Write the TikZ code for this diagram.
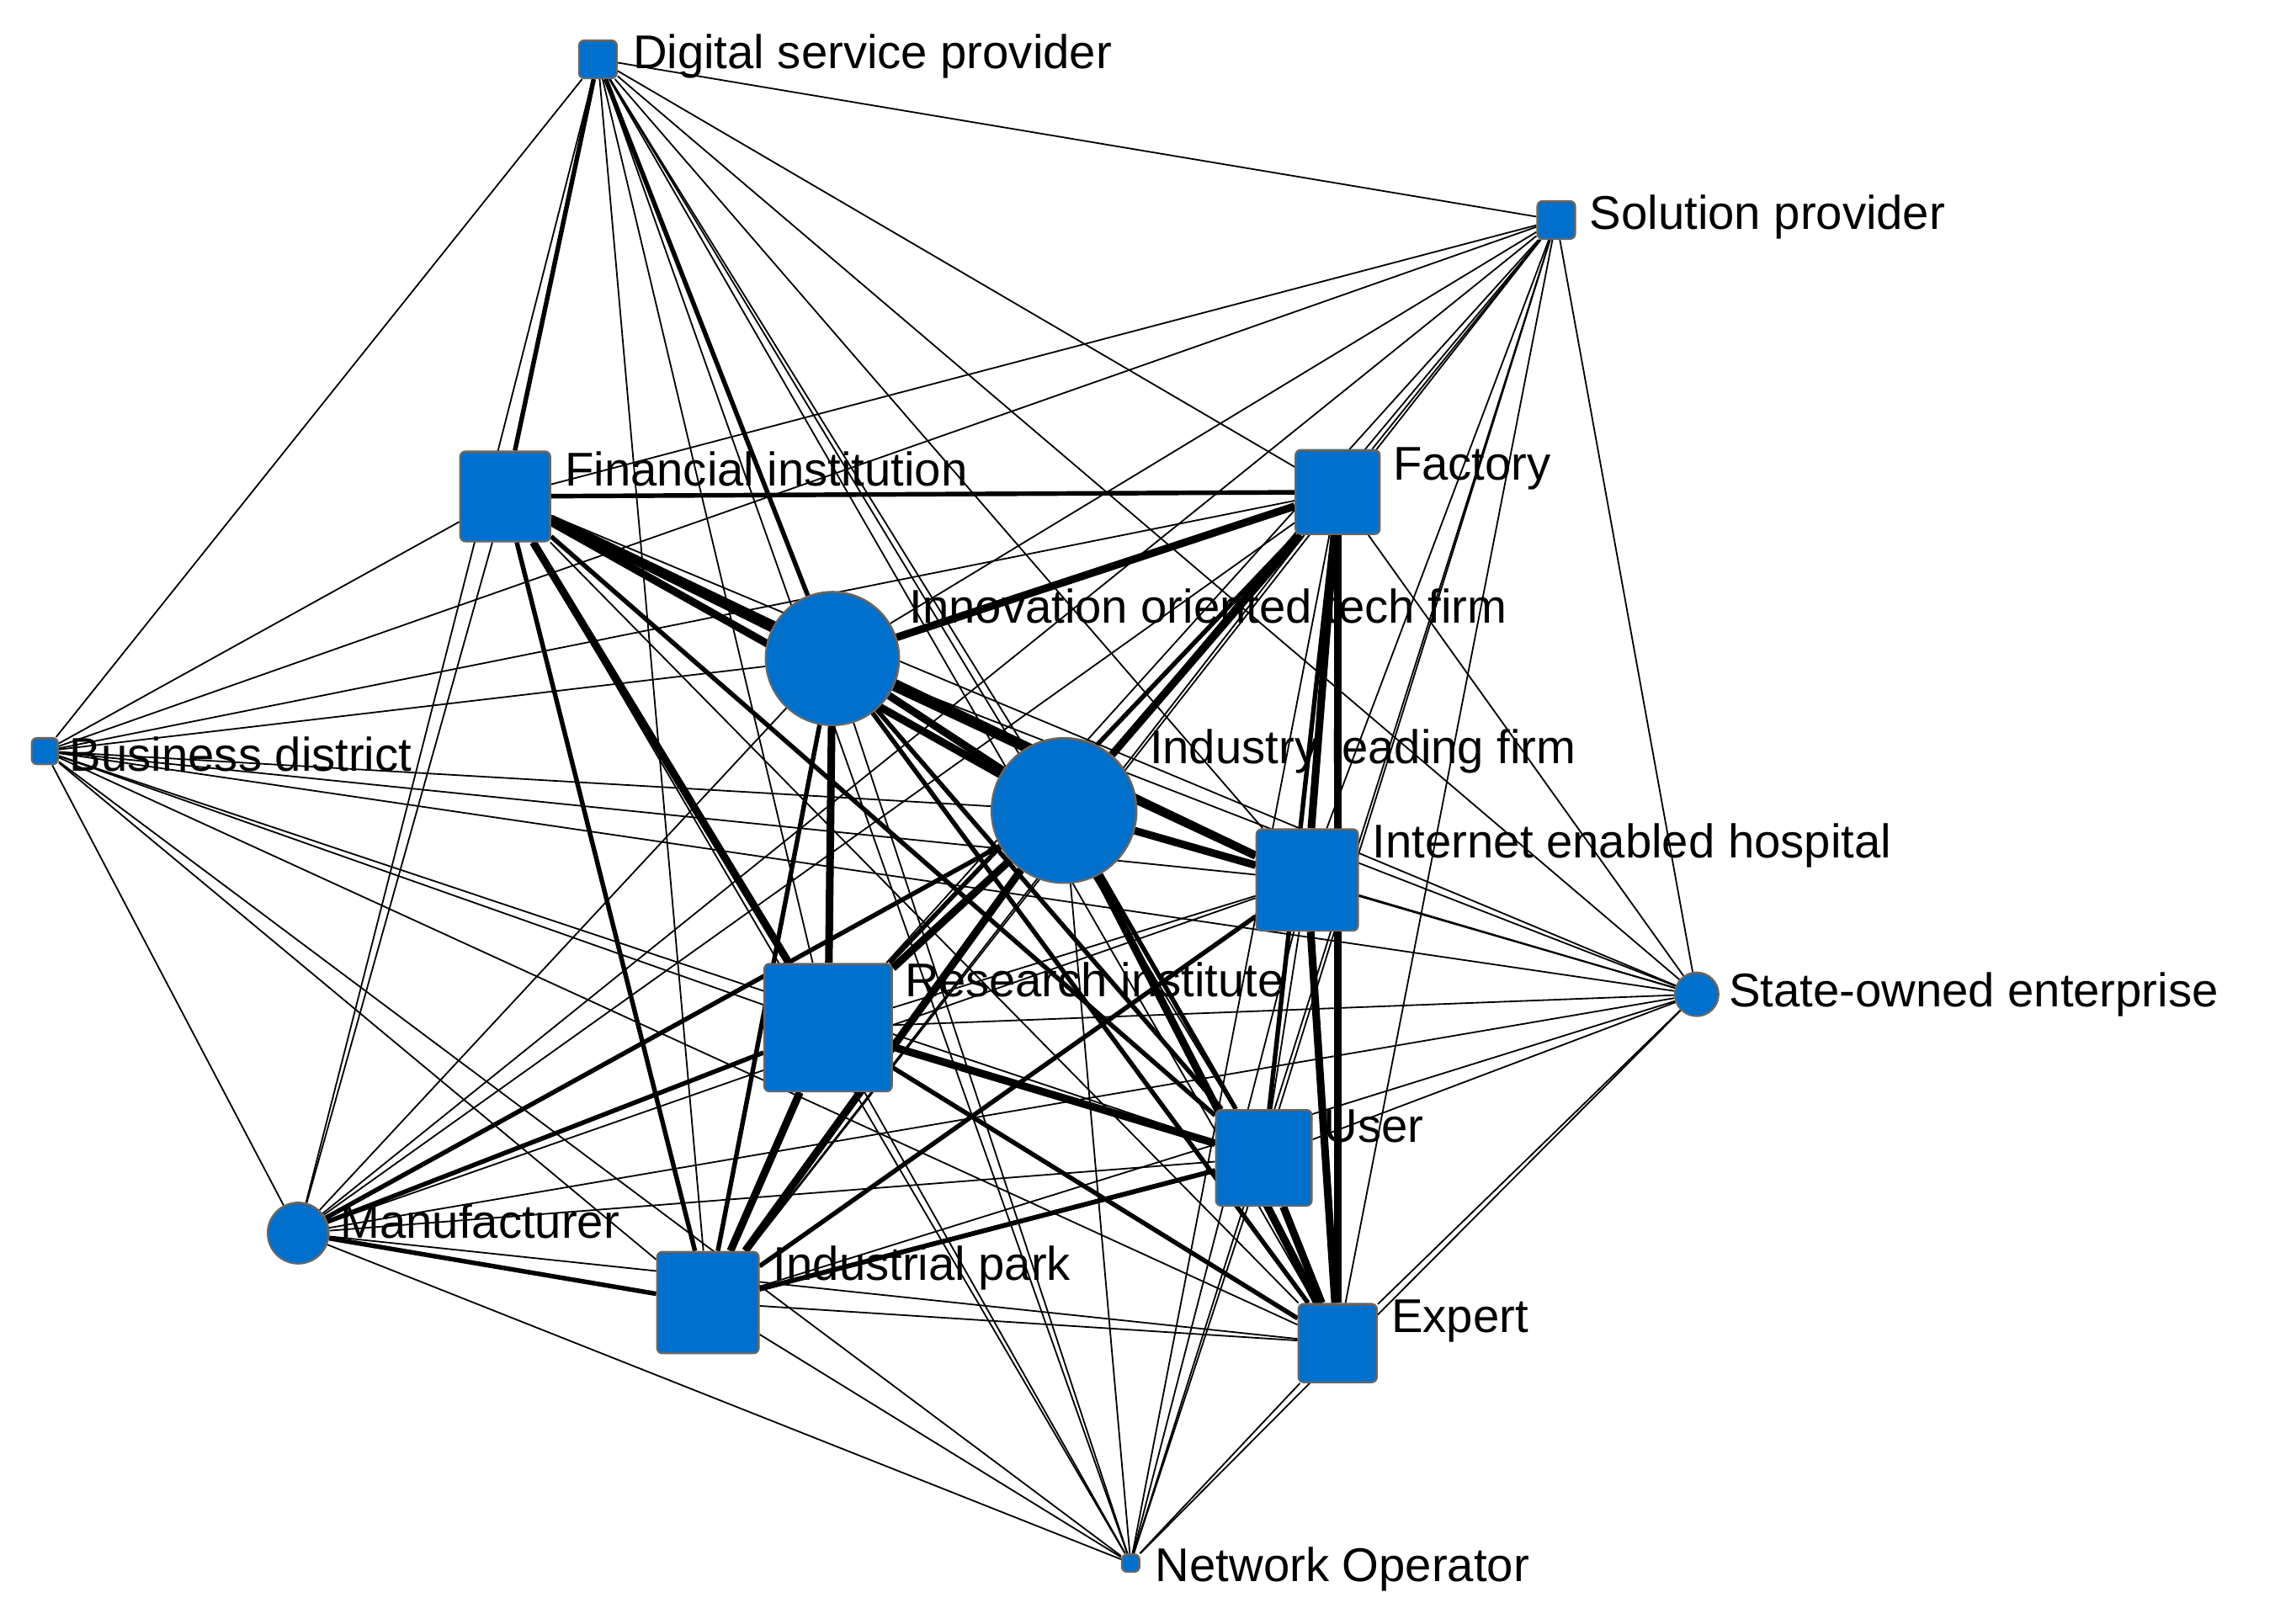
\documentclass[tikz,border=0pt]{standalone}
\usepackage{fontspec}
\setmainfont{Liberation Sans}
\usetikzlibrary{backgrounds}
\definecolor{nodeblue}{RGB}{0,112,204}
\tikzset{
  sq/.style={draw=black!60,fill=nodeblue,rounded corners=1pt,inner sep=0pt,minimum size=#1},
  dot/.style={circle,draw=black!60,fill=nodeblue,inner sep=0pt,minimum size=#1},
  lbl/.style={font=\fontsize{9.3}{11}\selectfont,inner sep=1pt,anchor=west},
  tie/.style={line width=0.3pt},
  mid/.style={line width=0.9pt},
  heavy/.style={line width=1.5pt}
}
\begin{document}
\begin{tikzpicture}[x=0.01cm,y=-0.01cm]
\useasboundingbox (0,0) rectangle (1568,1122);
% actors
\node[sq=0.26cm] (dsp) at (413,41) {};
\node[sq=0.26cm] (sol) at (1075,152) {};
\node[sq=0.62cm] (fin) at (349,343) {};
\node[sq=0.58cm] (fac) at (924,340) {};
\node[dot=0.92cm] (inn) at (575,455) {};
\node[dot=1.0cm] (ind) at (735,560) {};
\node[sq=0.18cm] (bus) at (31,519) {};
\node[sq=0.70cm] (hos) at (903,608) {};
\node[dot=0.30cm] (soe) at (1172,687) {};
\node[sq=0.88cm] (res) at (572,710) {};
\node[sq=0.66cm] (usr) at (873,800) {};
\node[dot=0.42cm] (man) at (206,852) {};
\node[sq=0.70cm] (prk) at (489,900) {};
\node[sq=0.54cm] (exp) at (924,928) {};
\node[sq=0.12cm] (net) at (781,1080) {};
% labels
\node[lbl] (tdsp) at (433,39) {Digital service provider};
\node[lbl] (tsol) at (1094,150) {Solution provider};
\node[lbl] (tfin) at (386,324) {Financial institution};
\node[lbl] (tfac) at (958,324) {Factory};
\node[lbl] (tinn) at (624,419) {Innovation oriented tech firm};
\node[lbl] (tind) at (790,519) {Industry leading firm};
\node[lbl] (tbus) at (44,521) {Business district};
\node[lbl] (thos) at (944,584) {Internet enabled hospital};
\node[lbl] (tsoe) at (1190,687) {State-owned enterprise};
\node[lbl] (tres) at (621,677) {Research institute};
\node[lbl] (tusr) at (910,778) {User};
\node[lbl] (tman) at (231,844) {Manufacturer};
\node[lbl] (tprk) at (530,876) {Industrial park};
\node[lbl] (texp) at (957,913) {Expert};
\node[lbl] (tnet) at (794,1084) {Network Operator};
% ties
\begin{pgfonlayer}{background}
\foreach \a [count=\i] in {dsp,sol,fin,fac,inn,ind,bus,hos,soe,res,usr,man,prk,exp,net}{
  \foreach \b [count=\j] in {dsp,sol,fin,fac,inn,ind,bus,hos,soe,res,usr,man,prk,exp,net}{
    \ifnum\i<\j \draw[tie] (\a) -- (\b);\fi
  }
}
\foreach \a/\b in {fin/fac,fin/usr,fin/prk,inn/prk,inn/usr,inn/exp,ind/man,ind/usr,
  fac/usr,fac/res,res/man,res/exp,prk/usr,dsp/fin,dsp/inn,man/prk,hos/prk,usr/prk}
  \draw[mid] (\a) -- (\b);
\foreach \a/\b in {fin/inn,fin/ind,fin/hos,fin/res,inn/ind,inn/hos,inn/res,ind/res,
  ind/hos,ind/prk,ind/exp,fac/hos,fac/exp,fac/ind,fac/inn,res/usr,res/prk,hos/exp,usr/exp}
  \draw[heavy] (\a) -- (\b);
\end{pgfonlayer}
\end{tikzpicture}
\end{document}
